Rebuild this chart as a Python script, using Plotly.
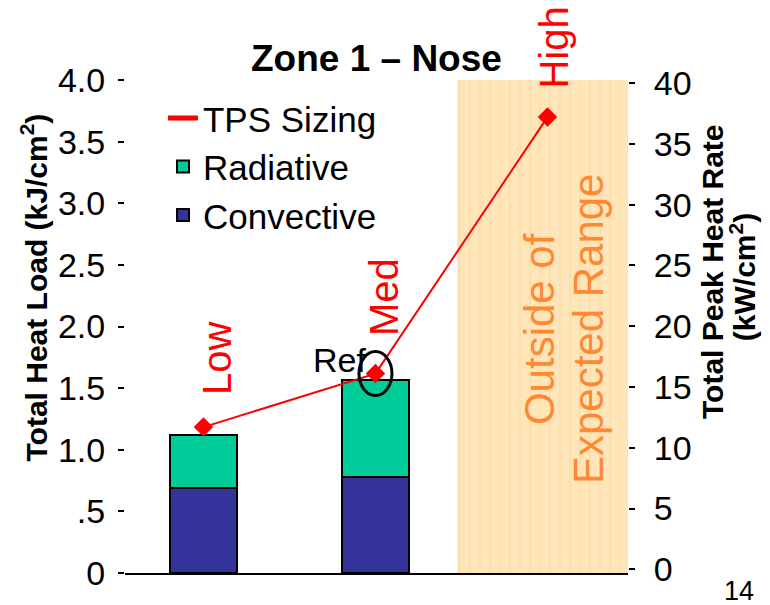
import plotly.graph_objects as go

# ---------------- data ----------------
categories = ["Low", "Med", "High"]
bar_categories = ["Low", "Med"]
convective = [0.69, 0.78]          # kJ/cm2
radiative = [0.43, 0.79]           # kJ/cm2 (stacked on convective)
tps_sizing = [11.7, 16.1, 37.2]    # kW/cm2 (right axis)
left_tickvals = [0, 0.5, 1.0, 1.5, 2.0, 2.5, 3.0, 3.5, 4.0]
left_ticktext = ["0", ".5", "1.0", "1.5", "2.0", "2.5", "3.0", "3.5", "4.0"]
right_tickvals = [0, 5, 10, 15, 20, 25, 30, 35, 40]
band_start, band_end = 1.474, 2.50   # "Outside of Expected Range" in category-index units

# ---------------- style ----------------
FONT = "Liberation Sans, Arial, sans-serif"
CONV = "#333399"
RAD = "#00CC99"
RED = "#FF0000"
BAND = "#FFE6BA"
STRIPE = "#FFD086"
ORANGE = "#FF8833"

x_all = [categories.index(c) for c in categories]
x_bar = [categories.index(c) for c in bar_categories]

fig = go.Figure()

# shaded out-of-range band (left axis)
fig.add_trace(go.Bar(
    x=[(band_start + band_end) / 2], y=[left_tickvals[-1]], width=[band_end - band_start],
    marker=dict(color=BAND, line=dict(width=0),
                pattern=dict(shape="|", fgcolor=STRIPE, bgcolor=BAND, size=10, solidity=0.14)),
    showlegend=False, hoverinfo="skip", yaxis="y",
))

fig.add_trace(go.Bar(
    x=x_bar, y=convective, width=0.385, name="Convective",
    marker=dict(color=CONV, line=dict(color="black", width=2)),
    legendrank=3, yaxis="y",
))
fig.add_trace(go.Bar(
    x=x_bar, y=radiative, width=0.385, name="Radiative",
    marker=dict(color=RAD, line=dict(color="black", width=2)),
    legendrank=2, yaxis="y",
))

# TPS sizing line + diamond markers on right axis
fig.add_trace(go.Scatter(
    x=x_all, y=tps_sizing, mode="lines+markers", name="TPS Sizing",
    line=dict(color=RED, width=2),
    marker=dict(symbol="diamond", size=15, color=RED),
    showlegend=False, yaxis="y2",
))
# legend entry (thick short red line)
fig.add_trace(go.Scatter(
    x=[None], y=[None], mode="lines", name="TPS Sizing",
    line=dict(color=RED, width=5), legendrank=1, yaxis="y2",
))

annotations = []
# category labels above points
label_shift = {"Low": (13, 30), "Med": (8, 36), "High": (7, 27)}
for c, v in zip(categories, tps_sizing):
    dx, dy = label_shift[c]
    annotations.append(dict(
        x=categories.index(c), y=v, xref="x", yref="y2", text=c, textangle=-90,
        showarrow=False, xanchor="center", yanchor="bottom", xshift=dx, yshift=dy,
        font=dict(family=FONT, size=40, color=RED),
    ))

# "Ref" label near Med point
annotations.append(dict(
    x=categories.index("Med"), y=tps_sizing[1], xref="x", yref="y2", text="Ref",
    showarrow=False, xanchor="right", yanchor="middle", xshift=-7, yshift=14,
    font=dict(family=FONT, size=34, color="black"),
))

# band text
annotations.append(dict(
    x=1.957, y=0.495, xref="x", yref="paper", text="Outside of", textangle=-90,
    showarrow=False, xanchor="center", yanchor="middle",
    font=dict(family=FONT, size=42, color=ORANGE),
))
annotations.append(dict(
    x=2.242, y=0.495, xref="x", yref="paper", text="Expected Range", textangle=-90,
    showarrow=False, xanchor="center", yanchor="middle",
    font=dict(family=FONT, size=42, color=ORANGE),
))

# title
annotations.append(dict(
    x=0.5, y=(573 - 58) / 493, xref="paper", yref="paper", text="<b>Zone 1 – Nose</b>",
    showarrow=False, xanchor="center", yanchor="middle",
    font=dict(family=FONT, size=37, color="black"),
))

# axis titles
annotations.append(dict(
    x=-0.18, y=0.58, xref="paper", yref="paper",
    text="<b>Total Heat Load (kJ/cm<sup>2</sup>)</b>", textangle=-90,
    showarrow=False, xanchor="center", yanchor="middle",
    font=dict(family=FONT, size=30, color="black"),
))
annotations.append(dict(
    x=1.167, y=0.6105, xref="paper", yref="paper",
    text="<b>Total Peak Heat Rate</b>", textangle=-90,
    showarrow=False, xanchor="center", yanchor="middle",
    font=dict(family=FONT, size=30, color="black"),
))
annotations.append(dict(
    x=1.2286, y=0.600, xref="paper", yref="paper",
    text="<b>(kW/cm<sup>2</sup>)</b>", textangle=-90,
    showarrow=False, xanchor="center", yanchor="middle",
    font=dict(family=FONT, size=30, color="black"),
))

# page number
annotations.append(dict(
    x=1.2207, y=-0.0365, xref="paper", yref="paper", text="14",
    showarrow=False, xanchor="center", yanchor="middle",
    font=dict(family=FONT, size=27, color="black"),
))

fig.update_layout(
    width=770, height=605, autosize=False,
    margin=dict(l=125, r=142, t=80, b=32, pad=0),
    paper_bgcolor="white", plot_bgcolor="white",
    barmode="stack", bargap=0,
    font=dict(family=FONT, color="black"),
    showlegend=True,
    legend=dict(x=0.0755, y=0.982, xanchor="left", yanchor="top",
                bgcolor="rgba(0,0,0,0)", font=dict(family=FONT, size=35, color="black"),
                traceorder="normal", itemwidth=30, tracegroupgap=0),
    xaxis=dict(range=[-0.456, 2.468], showticklabels=False, ticks="", showgrid=False,
               zeroline=False, showline=True, linecolor="black", linewidth=2),
    yaxis=dict(range=[0, 4.0], tickvals=left_tickvals, ticktext=left_ticktext,
               ticks="outside", ticklen=6, tickwidth=2, tickcolor="black",
               ticklabelstandoff=6,
               showgrid=False, zeroline=False, showline=False,
               tickfont=dict(family=FONT, size=34, color="black")),
    yaxis2=dict(range=[-0.3, 40.25], tickvals=right_tickvals, overlaying="y", side="right",
                ticks="outside", ticklen=6, tickwidth=2, tickcolor="black",
                ticklabelstandoff=12,
                showgrid=False, zeroline=False, showline=False,
                tickfont=dict(family=FONT, size=34, color="black")),
    annotations=annotations,
    shapes=[dict(
        type="circle", xref="x", yref="y2", xsizemode="pixel", ysizemode="pixel",
        xanchor=categories.index("Med"), yanchor=tps_sizing[1],
        x0=-16.5, x1=16.5, y0=-22, y1=22,
        line=dict(color="black", width=3), fillcolor="rgba(0,0,0,0)",
    )],
)

fig.write_html("out.html", config={"displayModeBar": False})
